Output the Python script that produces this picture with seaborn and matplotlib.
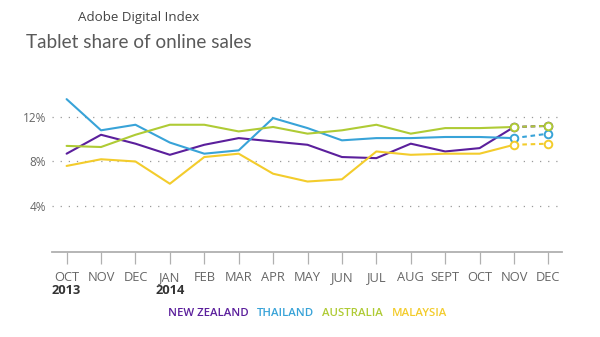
import matplotlib
matplotlib.use("Agg")
import matplotlib.pyplot as plt
import matplotlib.transforms as mtransforms
import pandas as pd
import seaborn as sns

# Monthly tablet share of online sales (%), Oct 2013 - Dec 2014
months = ["OCT", "NOV", "DEC", "JAN", "FEB", "MAR", "APR", "MAY",
          "JUN", "JUL", "AUG", "SEPT", "OCT", "NOV", "DEC"]
year_labels = {0: "2013", 3: "2014"}

new_zealand = [8.7, 10.4, 9.6, 8.6, 9.5, 10.1, 9.8, 9.5, 8.4, 8.3, 9.6, 8.9, 9.2, 11.1, 11.2]
thailand    = [13.6, 10.8, 11.3, 9.7, 8.7, 9.0, 11.9, 11.0, 9.9, 10.1, 10.1, 10.2, 10.2, 10.1, 10.5]
australia   = [9.4, 9.3, 10.4, 11.3, 11.3, 10.7, 11.1, 10.5, 10.8, 11.3, 10.5, 11.0, 11.0, 11.1, 11.2]
malaysia    = [7.6, 8.2, 8.0, 6.0, 8.4, 8.7, 6.9, 6.2, 6.4, 8.9, 8.6, 8.7, 8.7, 9.5, 9.6]

series_names = ["NEW ZEALAND", "THAILAND", "AUSTRALIA", "MALAYSIA"]
series_values = [new_zealand, thailand, australia, malaysia]
colors = ["#5b1f9c", "#38a3d8", "#afcb35", "#f3cc2c"]

# last two months are projections (dashed, open markers)
n_actual = 14

yticks = [4, 8, 12]

sns.set_theme(style="white")
plt.rcParams["font.family"] = ["Open Sans", "DejaVu Sans"]

fig = plt.figure(figsize=(6, 3.37), dpi=100)
ax = fig.add_axes([0.086, 0.2513, 0.851, 0.4677])

frames = []
for name, vals in zip(series_names, series_values):
    frames.append(pd.DataFrame({"month": range(len(vals)), "share": vals, "country": name}))
df = pd.concat(frames, ignore_index=True)

# draw order: New Zealand first so Australia's markers sit on top
order = ["NEW ZEALAND", "THAILAND", "MALAYSIA", "AUSTRALIA"]
palette = dict(zip(series_names, colors))
for name in order:
    d = df[df.country == name]
    actual = d[d.month < n_actual]
    proj = d[d.month >= n_actual - 1]
    sns.lineplot(data=actual, x="month", y="share", color=palette[name],
                 linewidth=1.5, ax=ax, legend=False)
    sns.lineplot(data=proj, x="month", y="share", color=palette[name],
                 linewidth=1.5, ax=ax, legend=False, linestyle=(0, (2.2, 1.8)))
    sns.scatterplot(data=proj, x="month", y="share", ax=ax, legend=False,
                    s=30, facecolor="white", edgecolor=palette[name],
                    linewidth=1.4, zorder=5)

ax.set_xlim(-0.436, 14.4)
ax.set_ylim(-0.16, 14)

# dotted horizontal guides
for yv in yticks:
    ax.axhline(yv, color="#9a9a9a", linewidth=0.9, linestyle=(0, (1, 5.5)), zorder=0)

ax.set_yticks(yticks)
ax.set_yticklabels([f"{v}%" for v in yticks], color="#666666", fontsize=8.5)
ax.tick_params(axis="y", length=0, pad=4)

ax.set_xticks(range(len(months)))
ax.set_xticklabels(months, color="#666666", fontsize=9.3)
ax.tick_params(axis="x", direction="out", length=8.5, width=0.9,
               color="#b0b0b0", pad=5, bottom=True)

for side in ["top", "right", "left"]:
    ax.spines[side].set_visible(False)
ax.spines["bottom"].set_color("#b0b0b0")
ax.spines["bottom"].set_linewidth(1.3)
ax.set_xlabel("")
ax.set_ylabel("")
ax.grid(False)

# year markers under the month labels
trans = mtransforms.blended_transform_factory(ax.transData, fig.transFigure)
for idx, yr in year_labels.items():
    ax.text(idx, 0.1365, yr, transform=trans, ha="center", va="center",
            fontsize=9.3, fontweight="bold", color="#333333")

# headings
fig.text(0.13, 0.9475, "Adobe Digital Index", ha="left", va="center",
         fontsize=9.6, color="#444444")
fig.text(0.044, 0.874, "Tablet share of online sales", ha="left", va="center",
         fontsize=13.6, color="#5a5a5a", fontweight="normal",
         family=["Lato", "DejaVu Sans"])

# coloured-text legend
legend_x = [0.28, 0.428, 0.537, 0.653]
for name, col, lx in zip(series_names, colors, legend_x):
    fig.text(lx, 0.0712, name, ha="left", va="center", fontsize=8.2,
             fontweight="semibold", color=col)

fig.savefig("out.png", dpi=100)
